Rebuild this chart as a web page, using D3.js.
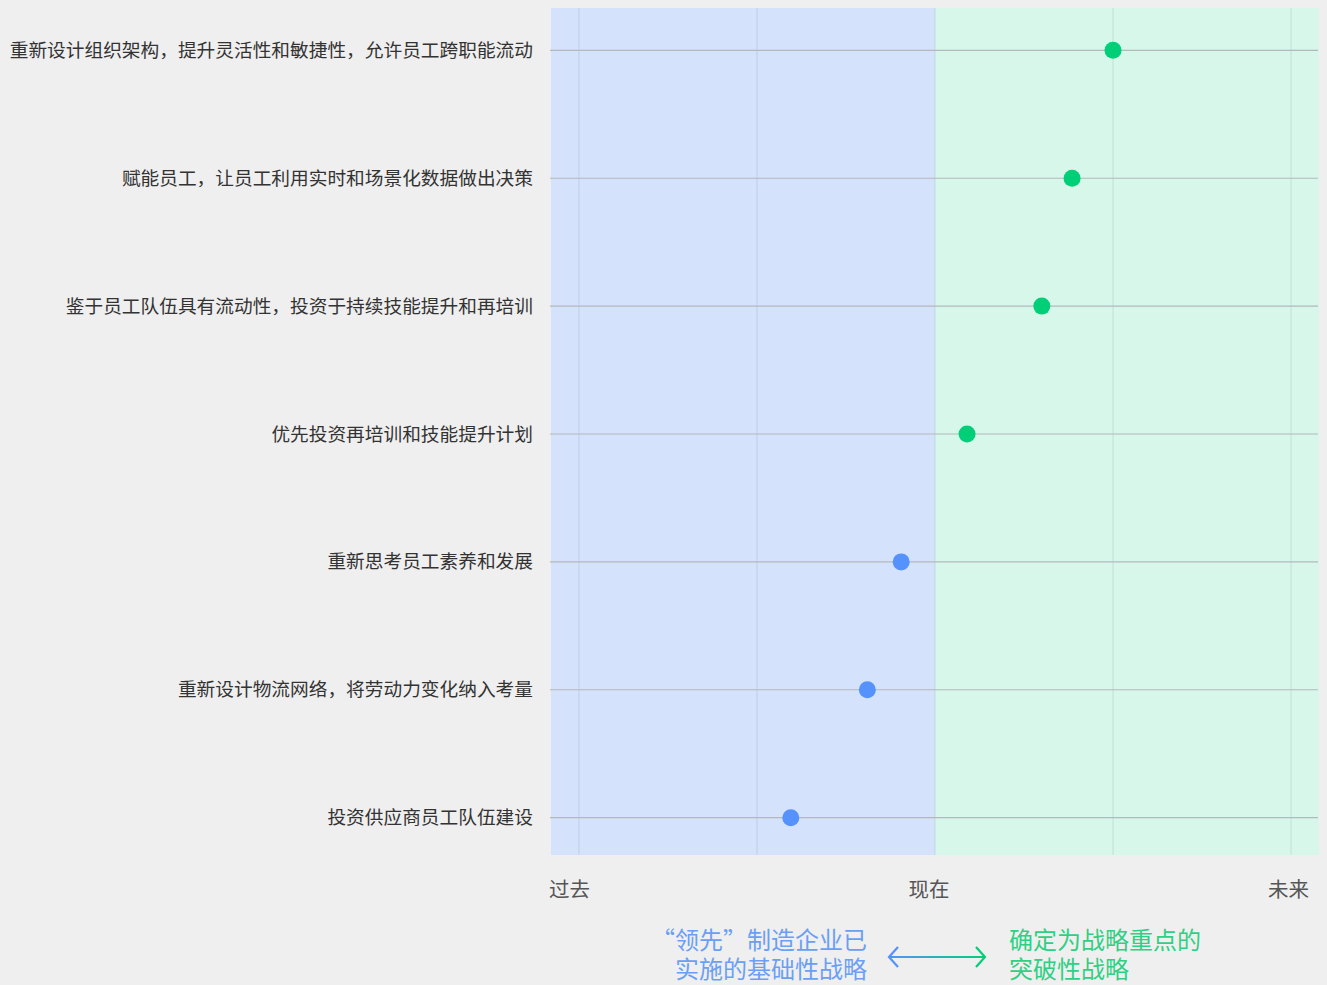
<!DOCTYPE html>
<html>
<head>
<meta charset="utf-8">
<script src="https://cdn.jsdelivr.net/npm/d3@7"></script>
<style>
  body { margin: 0; background: #efefef; }
  svg { display: block; font-family: "Noto Sans CJK SC", "Noto Sans", sans-serif; }
</style>
</head>
<body>
<svg id="chart"></svg>
<script>
const strategies = [
    '重新设计组织架构，提升灵活性和敏捷性，允许员工跨职能流动',
    '赋能员工，让员工利用实时和场景化数据做出决策',
    '鉴于员工队伍具有流动性，投资于持续技能提升和再培训',
    '优先投资再培训和技能提升计划',
    '重新思考员工素养和发展',
    '重新设计物流网络，将劳动力变化纳入考量',
    '投资供应商员工队伍建设'
];
const timeValues = [3.0, 2.77, 2.6, 2.18, 1.81, 1.62, 1.19];
const tickValues = [0, 1, 2, 3, 4];
const tickLabels = ['过去', '', '现在', '', '未来'];
const nowValue = 2;

const blue = '#5592fb';
const green = '#00cf78';

const width = 1327, height = 985;
const svg = d3.select('#chart').attr('width', width).attr('height', height);

const plot = { left: 551, right: 1319, top: 8, bottom: 855 };

const x = d3.scaleLinear()
    .domain([-0.157, 4.157])
    .range([plot.left, plot.right]);

const y = d3.scalePoint()
    .domain(strategies)
    .range([plot.top + 4, plot.bottom + 1])
    .padding(0.3);

// Background zones
svg.append('rect')
    .attr('x', x(x.domain()[0]))
    .attr('y', plot.top)
    .attr('width', x(nowValue) - x(x.domain()[0]))
    .attr('height', plot.bottom - plot.top)
    .attr('fill', '#d4e2fc');

svg.append('rect')
    .attr('x', x(nowValue))
    .attr('y', plot.top)
    .attr('width', x(x.domain()[1]) - x(nowValue))
    .attr('height', plot.bottom - plot.top)
    .attr('fill', '#d7f7ea');

// Vertical grid
svg.append('g')
    .selectAll('line')
    .data(tickValues)
    .join('line')
    .attr('x1', d => x(d))
    .attr('x2', d => x(d))
    .attr('y1', plot.top)
    .attr('y2', plot.bottom)
    .attr('stroke', '#8a9aa8')
    .attr('stroke-opacity', 0.22)
    .attr('stroke-width', 1.2);

// Row lines
svg.append('g')
    .selectAll('line')
    .data(strategies)
    .join('line')
    .attr('x1', plot.left - 1)
    .attr('x2', plot.right - 1)
    .attr('y1', d => y(d))
    .attr('y2', d => y(d))
    .attr('stroke', '#b4b8bc')
    .attr('stroke-width', 1.2);

// Category labels
svg.append('g')
    .selectAll('text')
    .data(strategies)
    .join('text')
    .attr('x', 533)
    .attr('y', d => y(d))
    .attr('dy', '0.35em')
    .attr('text-anchor', 'end')
    .attr('font-size', 18.7)
    .attr('fill', '#333')
    .text(d => d);

// Axis labels
svg.append('g')
    .selectAll('text')
    .data(tickValues.filter((d, i) => tickLabels[i]))
    .join('text')
    .attr('x', d => x(d))
    .attr('y', 897)
    .attr('text-anchor', (d, i) => i === 0 ? 'start' : (d === 4 ? 'end' : 'middle'))
    .attr('dx', (d, i) => i === 0 ? -30 : (d === 4 ? 18 : -6))
    .attr('font-size', 20.5)
    .attr('fill', '#555')
    .text(d => tickLabels[tickValues.indexOf(d)]);

// Dots
svg.append('g')
    .selectAll('circle')
    .data(strategies)
    .join('circle')
    .attr('cx', (d, i) => x(timeValues[i]))
    .attr('cy', d => y(d))
    .attr('r', 8.5)
    .attr('fill', (d, i) => timeValues[i] >= nowValue ? green : blue);

// Legend
const legendY = 957;
const arrowX0 = 889, arrowX1 = 985;

const defs = svg.append('defs');
const grad = defs.append('linearGradient')
    .attr('id', 'arrowGrad')
    .attr('gradientUnits', 'userSpaceOnUse')
    .attr('x1', arrowX0).attr('x2', arrowX1)
    .attr('y1', 0).attr('y2', 0);
grad.append('stop').attr('offset', '0%').attr('stop-color', blue);
grad.append('stop').attr('offset', '100%').attr('stop-color', green);

svg.append('line')
    .attr('x1', arrowX0).attr('x2', arrowX1)
    .attr('y1', legendY).attr('y2', legendY)
    .attr('stroke', 'url(#arrowGrad)')
    .attr('stroke-width', 2.2);
svg.append('path')
    .attr('d', `M${arrowX0 + 9},${legendY - 10} L${arrowX0},${legendY} L${arrowX0 + 9},${legendY + 10}`)
    .attr('fill', 'none').attr('stroke', blue).attr('stroke-width', 2.2);
svg.append('path')
    .attr('d', `M${arrowX1 - 9},${legendY - 10} L${arrowX1},${legendY} L${arrowX1 - 9},${legendY + 10}`)
    .attr('fill', 'none').attr('stroke', green).attr('stroke-width', 2.2);

const leftText = ['“领先”制造企业已', '实施的基础性战略'];
const rightText = ['确定为战略重点的', '突破性战略'];

svg.append('g')
    .selectAll('text')
    .data(leftText)
    .join('text')
    .attr('x', 867)
    .attr('y', (d, i) => 949 + i * 29)
    .attr('text-anchor', 'end')
    .attr('font-size', 24)
    .attr('fill', '#6b9ff5')
    .text(d => d);

svg.append('g')
    .selectAll('text')
    .data(rightText)
    .join('text')
    .attr('x', 1009)
    .attr('y', (d, i) => 949 + i * 29)
    .attr('font-size', 24)
    .attr('fill', '#2fd083')
    .text(d => d);
</script>
</body>
</html>
